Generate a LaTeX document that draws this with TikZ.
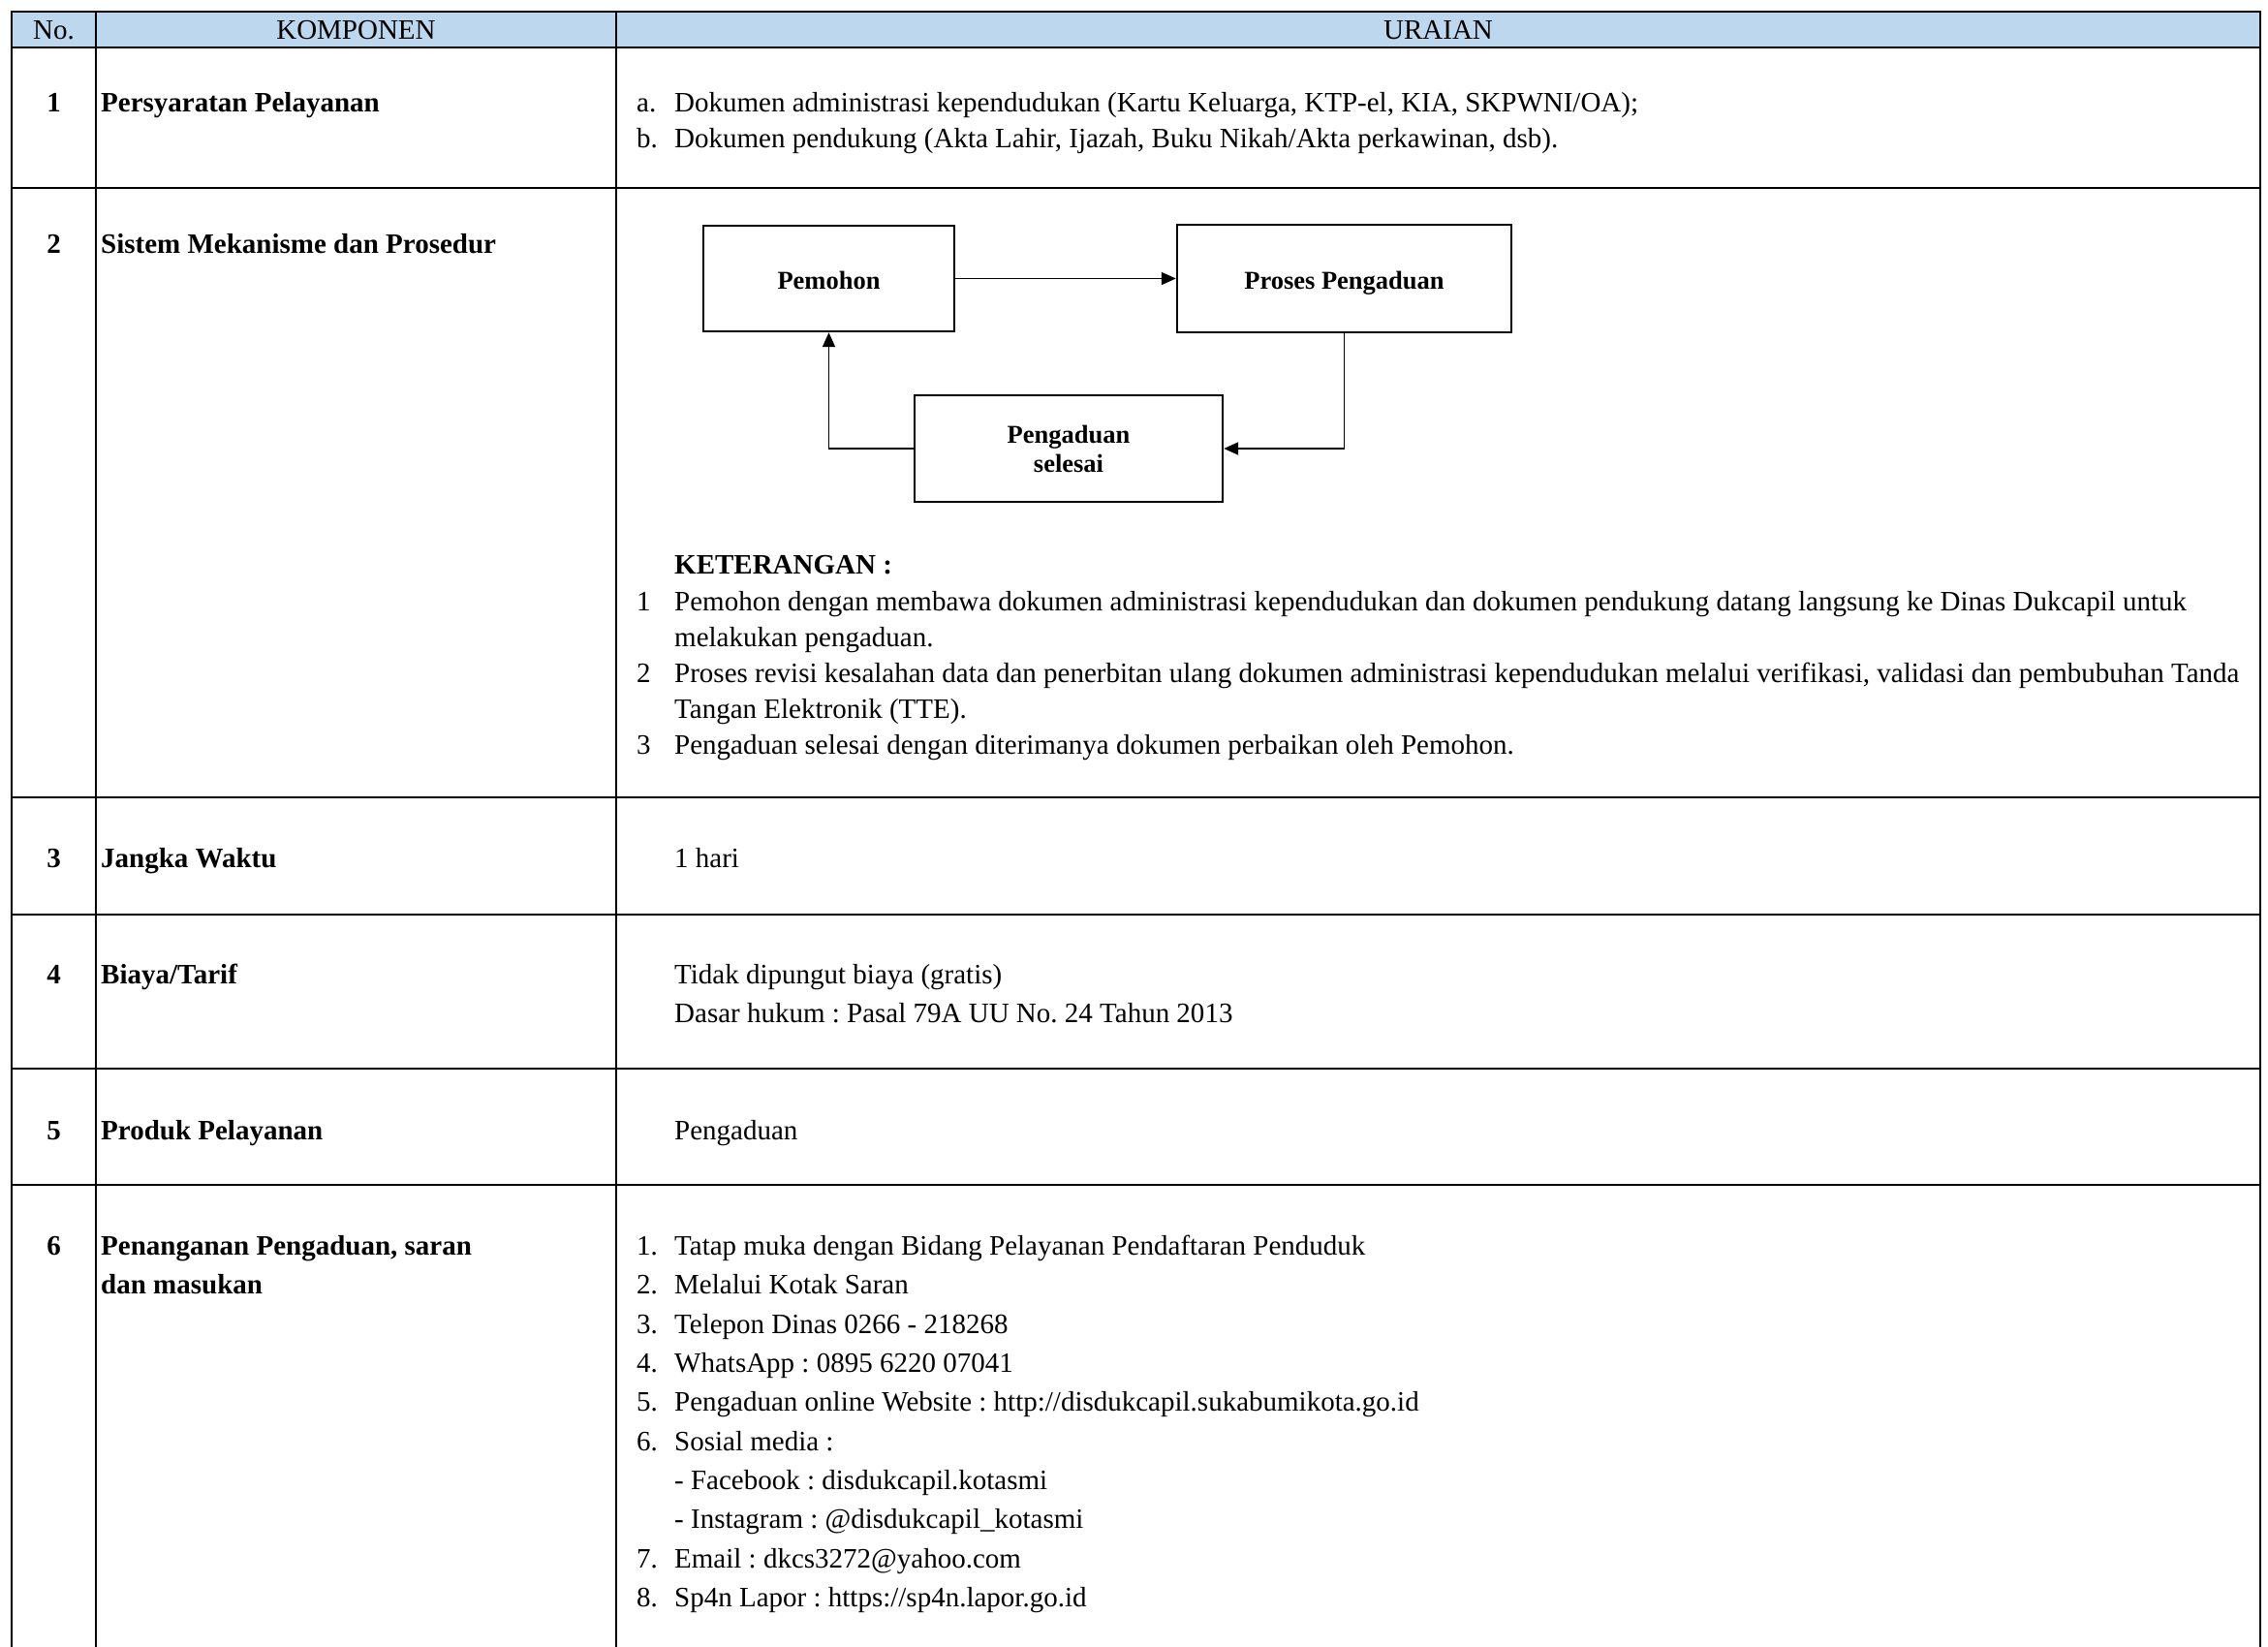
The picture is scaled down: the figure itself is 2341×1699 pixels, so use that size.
\documentclass[tikz,border=0pt]{standalone}
\usepackage{fontspec}
\setmainfont{Liberation Serif}
\usetikzlibrary{arrows.meta}
\definecolor{hdr}{HTML}{BDD7EE}
\frenchspacing
\begin{document}
\frenchspacing
\begin{tikzpicture}[x=1pt,y=-1pt,
  grid/.style={line width=2.6pt, line cap=rect},
  txt/.style={font=\fontsize{29}{35}\selectfont, inner sep=0pt, anchor=base west, yshift=-1.5pt},
  btxt/.style={txt, font=\fontsize{29}{35}\selectfont\bfseries},
  num/.style={btxt, anchor=base},
  hd/.style={txt, anchor=base},
  fbox/.style={draw, line width=2.4pt, inner sep=0pt, align=center,
    font=\fontsize{26.5}{30}\selectfont\bfseries},
  arr/.style={line width=1.8pt, -{Triangle[length=15pt,width=13pt]}}]
\useasboundingbox (0,0) rectangle (2341,1699);
% table
\fill[hdr] (12,12) rectangle (2333,49);
\draw[grid] (12,1699) -- (12,12) -- (2333,12) -- (2333,1699);
\foreach \yy in {49,194,823,944,1103,1223} \draw[grid] (12,\yy) -- (2333,\yy);
\draw[grid] (99,12) -- (99,1699);
\draw[grid] (636,12) -- (636,1699);
% header
\node[hd] (hno) at (55.5,39) {No.};
\node[hd] (hkomp) at (367.5,39) {KOMPONEN};
\node[hd] (hur) at (1484.5,39) {URAIAN};
% numbers
\node[num] (n1) at (55.5,114) {1};
\node[num] (n2) at (55.5,260) {2};
\node[num] (n3) at (55.5,894) {3};
\node[num] (n4) at (55.5,1014) {4};
\node[num] (n5) at (55.5,1175) {5};
\node[num] (n6) at (55.5,1294) {6};
% labels
\node[btxt] (k1) at (104,114) {Persyaratan Pelayanan};
\node[btxt] (k2) at (104,260) {Sistem Mekanisme dan Prosedur};
\node[btxt] (k3) at (104,894) {Jangka Waktu};
\node[btxt] (k4) at (104,1014) {Biaya/Tarif};
\node[btxt] (k5) at (104,1175) {Produk Pelayanan};
\node[btxt] (k6a) at (104,1294) {Penanganan Pengaduan, saran};
\node[btxt] (k6b) at (104,1334) {dan masukan};
% row 1
\node[txt] (r1ma) at (657,114) {a.};
\node[txt] (r1a) at (696,114) {Dokumen administrasi kependudukan (Kartu Keluarga, KTP-el, KIA, SKPWNI/OA);};
\node[txt] (r1mb) at (657,151) {b.};
\node[txt] (r1b) at (696,151) {Dokumen pendukung (Akta Lahir, Ijazah, Buku Nikah/Akta perkawinan, dsb).};
% row 2 flowchart
\node[fbox, text height=21pt, text depth=0pt, minimum width=259pt, minimum height=109pt] (pem) at (855.5,287.5) {Pemohon};
\node[fbox, text height=21pt, text depth=0pt, minimum width=345pt, minimum height=111pt] (pro) at (1387.5,287.5) {Proses Pengaduan};
\node[fbox, minimum width=318pt, minimum height=110pt] (sel) at (1103,463) {Pengaduan\\selesai};
\draw[arr] (pem.east) -- (pem.east -| pro.west);
\draw[arr] (pro.south) |- (sel.east);
\draw[arr] (sel.west) -| (pem.south);
% keterangan
\node[btxt] (ket) at (696,591) {KETERANGAN :};
\node[txt] (km1) at (657,629) {1};
\node[txt] (kt1a) at (696,629) {Pemohon dengan membawa dokumen administrasi kependudukan dan dokumen pendukung datang langsung ke Dinas Dukcapil untuk};
\node[txt] (kt1b) at (696,666) {melakukan pengaduan.};
\node[txt] (km2) at (657,703) {2};
\node[txt] (kt2a) at (696,703) {Proses revisi kesalahan data dan penerbitan ulang dokumen administrasi kependudukan melalui verifikasi, validasi dan pembubuhan Tanda};
\node[txt] (kt2b) at (696,740) {Tangan Elektronik (TTE).};
\node[txt] (km3) at (657,777) {3};
\node[txt] (kt3) at (696,777) {Pengaduan selesai dengan diterimanya dokumen perbaikan oleh Pemohon.};
% row 3-5
\node[txt] (r3) at (696,894) {1 hari};
\node[txt] (r4a) at (696,1014) {Tidak dipungut biaya (gratis)};
\node[txt] (r4b) at (696,1054) {Dasar hukum : Pasal 79A UU No. 24 Tahun 2013};
\node[txt] (r5) at (696,1175) {Pengaduan};
% row 6
\node[txt] (m61) at (657,1294) {1.};
\node[txt] (t61) at (696,1294) {Tatap muka dengan Bidang Pelayanan Pendaftaran Penduduk};
\node[txt] (m62) at (657,1334) {2.};
\node[txt] (t62) at (696,1334) {Melalui Kotak Saran};
\node[txt] (m63) at (657,1375) {3.};
\node[txt] (t63) at (696,1375) {Telepon Dinas 0266 - 218268};
\node[txt] (m64) at (657,1415) {4.};
\node[txt] (t64) at (696,1415) {WhatsApp : 0895 6220 07041};
\node[txt] (m65) at (657,1455) {5.};
\node[txt] (t65) at (696,1455) {Pengaduan online Website : http://disdukcapil.sukabumikota.go.id};
\node[txt] (m66) at (657,1496) {6.};
\node[txt] (t66) at (696,1496) {Sosial media :};
\node[txt] (t66a) at (696,1536) {- Facebook : disdukcapil.kotasmi};
\node[txt] (t66b) at (696,1576) {- Instagram : @disdukcapil\_kotasmi};
\node[txt] (m67) at (657,1617) {7.};
\node[txt] (t67) at (696,1617) {Email : dkcs3272@yahoo.com};
\node[txt] (m68) at (657,1657) {8.};
\node[txt] (t68) at (696,1657) {Sp4n Lapor : https://sp4n.lapor.go.id};
\end{tikzpicture}
\end{document}
